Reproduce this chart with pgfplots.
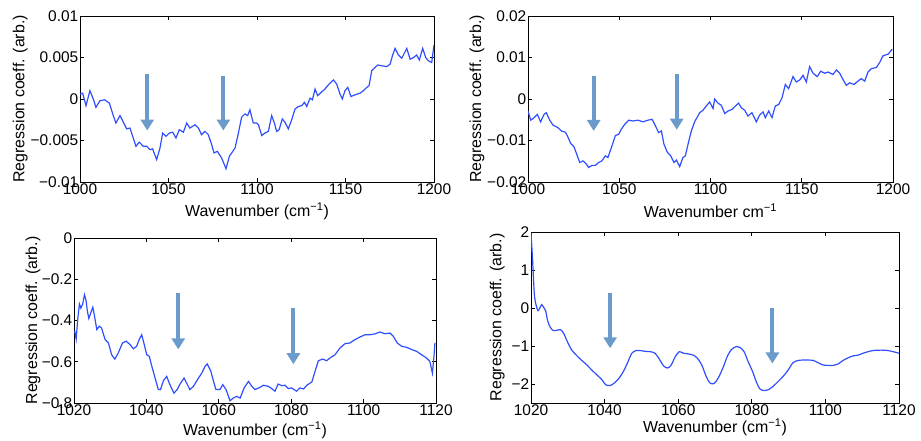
\documentclass[border=0pt]{standalone}
\usepackage{fontspec}
\setmainfont{Liberation Sans}
\usepackage{pgfplots}
\pgfplotsset{compat=1.18}
\usetikzlibrary{arrows.meta}
\definecolor{specblue}{HTML}{2F4FFF}
\definecolor{arrowblue}{HTML}{6A9BCB}

\pgfplotsset{
  matlab/.style={
    scale only axis,
    anchor=south west,
    axis line style={black,line width=0.8bp},
    tick style={black,line width=0.8bp},
    tick align=inside,
    major tick length=4bp,
    scaled ticks=false,
    tick label style={font=\fontsize{15.5}{17}\selectfont},
    ticklabel style={inner sep=1.5bp},
    label style={font=\fontsize{16}{18}\selectfont},
    no markers,
    cycle list={{specblue}},
    every axis plot/.append style={line width=1.2bp},
    clip=true,
  },
}
\tikzset{arr/.style={arrowblue,line width=4bp,-{Triangle[width=13bp,length=11bp]}}}

\begin{document}
\begin{tikzpicture}
\useasboundingbox (0,0) rectangle (921bp,441bp);

% top left
\begin{axis}[matlab,
  at={(80bp,259bp)},width=354bp,height=166bp,
  xmin=1000,xmax=1200,ymin=-0.01,ymax=0.01,
  xtick={1000,1050,1100,1150,1200},
  xticklabels={1000,1050,1100,1150,1200},
  ytick={-0.01,-0.005,0,0.005,0.01},
  yticklabels={−0.01,−0.005,0,0.005,0.01},
  xlabel={Wavenumber (cm\textsuperscript{−1})},
  ylabel={Regression coeff. (arb.)},
  xlabel style={at={(axis description cs:0.5,-0.175)},anchor=center},
  ylabel style={at={(axis description cs:-0.169,0.5)},anchor=center},
]
\addplot coordinates {
(1000,0.0006) (1001.5,0.0007) (1003.4,-0.0008) (1005.6,0.0010) (1007.5,0.0000)
(1009,-0.0010) (1011.3,-0.0002) (1014,-0.0001) (1016.6,-0.0005) (1018.8,-0.0020)
(1020.3,-0.0029) (1022.6,-0.0020) (1024.5,-0.0028) (1026.4,-0.0036) (1028.2,-0.0035)
(1030.1,-0.0047) (1031.6,-0.0057) (1033.5,-0.0052) (1035.8,-0.0057) (1037.7,-0.0057)
(1039.5,-0.0061) (1041,-0.0060) (1043.3,-0.0073) (1045.2,-0.0059) (1046.7,-0.0041)
(1048.6,-0.0045) (1050.5,-0.0041) (1052.4,-0.0040) (1054.2,-0.0047) (1056.1,-0.0037)
(1058.4,-0.0040) (1060.3,-0.0029) (1062.1,-0.0035) (1065,-0.0031) (1066.9,-0.0035)
(1068.7,-0.0043) (1070.6,-0.0039) (1072.5,-0.0043) (1074.4,-0.0055) (1075.7,-0.0065)
(1077.6,-0.0063) (1080,-0.0071) (1082.5,-0.0084) (1084.4,-0.0069) (1085.7,-0.0065)
(1087.6,-0.0059) (1089.5,-0.0041) (1091.3,-0.0022) (1093.2,-0.0018) (1094.7,-0.0020)
(1096,-0.0013) (1097.9,-0.0029) (1099.8,-0.0029) (1100.8,-0.0031) (1102.7,-0.0044)
(1104.5,-0.0041) (1106.4,-0.0039) (1108.3,-0.0020) (1109.8,-0.0029) (1111.1,-0.0039)
(1112.5,-0.0037) (1114.3,-0.0024) (1115.8,-0.0028) (1117.7,-0.0036) (1119.6,-0.0025)
(1121.5,-0.0012) (1123.4,-0.0009) (1125.3,-0.0008) (1126.8,-0.0004) (1128.1,-0.0009)
(1130,0.0001) (1131.3,-0.0001) (1132.8,0.0012) (1134.3,0.0004) (1136.2,0.0008)
(1138.4,0.0012) (1140.7,0.0018) (1143.2,0.0023) (1145,0.0018) (1146.9,0.0006)
(1148.2,0.0000) (1149.7,0.0010) (1151.3,0.0014) (1153.1,0.0003) (1155.4,0.0005)
(1158.2,0.0007) (1160.1,0.0010) (1162,0.0014) (1163.3,0.0016) (1164.8,0.0034)
(1166.7,0.0038) (1168.2,0.0041) (1170.5,0.0040) (1173.3,0.0039) (1175.2,0.0042)
(1176.5,0.0052) (1178,0.0061) (1179.9,0.0053) (1181.8,0.0049) (1184.6,0.0061)
(1186.5,0.0048) (1188.4,0.0050) (1190.2,0.0053) (1191.7,0.0047) (1193.6,0.0061)
(1195.3,0.0050) (1196.8,0.0046) (1198.7,0.0044) (1200,0.0065)
};
\draw[arr] (axis cs:1038,0.0030) -- (axis cs:1038,-0.0038);
\draw[arr] (axis cs:1081,0.0028) -- (axis cs:1081,-0.0038);
\end{axis}

% top right
\begin{axis}[matlab,
  at={(528bp,259bp)},width=365bp,height=166bp,
  xmin=1000,xmax=1200,ymin=-0.02,ymax=0.02,
  xtick={1000,1050,1100,1150,1200},
  xticklabels={1000,1050,1100,1150,1200},
  ytick={-0.02,-0.01,0,0.01,0.02},
  yticklabels={−0.02,−0.01,0,0.01,0.02},
  xlabel={Wavenumber cm\textsuperscript{−1}},
  ylabel={Regression coeff. (arb.)},
  xlabel style={at={(axis description cs:0.5,-0.175)},anchor=center},
  ylabel style={at={(axis description cs:-0.14,0.5)},anchor=center},
]
\addplot coordinates {
(1000,-0.0029) (1001.5,-0.0051) (1003.3,-0.0045) (1005.1,-0.0037) (1006.9,-0.0055)
(1008.8,-0.0037) (1010,-0.0033) (1011.9,-0.0051) (1013.7,-0.0063) (1016.4,-0.0069)
(1018.3,-0.0077) (1020.5,-0.0080) (1021.6,-0.0089) (1023.4,-0.0107) (1025.2,-0.0115)
(1027,-0.0137) (1028.3,-0.0153) (1030.1,-0.0149) (1032,-0.0157) (1033.2,-0.0165)
(1035.1,-0.0160) (1036.9,-0.0160) (1038.7,-0.0153) (1040.5,-0.0149) (1042.4,-0.0137)
(1043.8,-0.0141) (1045.7,-0.0117) (1047.9,-0.0088) (1049.7,-0.0085) (1051.1,-0.0073)
(1053,-0.0061) (1055.2,-0.0051) (1057.5,-0.0053) (1060.3,-0.0051) (1063,-0.0055)
(1065.8,-0.0051) (1068,-0.0049) (1069.4,-0.0061) (1071.6,-0.0081) (1073.1,-0.0077)
(1074.5,-0.0109) (1076.3,-0.0128) (1078.2,-0.0137) (1080,-0.0153) (1081.3,-0.0147)
(1083.1,-0.0163) (1084.9,-0.0141) (1086.2,-0.0137) (1087.7,-0.0109) (1089.5,-0.0077)
(1091.3,-0.0055) (1094.1,-0.0033) (1095.9,-0.0027) (1097.7,-0.0017) (1099.5,-0.0007)
(1101.4,-0.0023) (1102.3,0.0000) (1104.1,-0.0010) (1105.9,-0.0015) (1107.8,-0.0035)
(1109.6,-0.0029) (1111.8,-0.0025) (1113.6,-0.0017) (1115.4,-0.0010) (1116.9,-0.0021)
(1118.7,-0.0027) (1120.5,-0.0041) (1122.7,-0.0033) (1125.1,-0.0055) (1126.9,-0.0039)
(1128.8,-0.0031) (1130,-0.0045) (1131.9,-0.0029) (1133.7,-0.0045) (1135.5,-0.0017)
(1137.4,-0.0013) (1139.2,0.0003) (1141,0.0035) (1142.8,0.0025) (1145.2,0.0054)
(1147,0.0041) (1148.9,0.0046) (1150.7,0.0057) (1152.5,0.0041) (1154.3,0.0078)
(1156.2,0.0062) (1158.5,0.0054) (1160.4,0.0067) (1162.6,0.0062) (1164.4,0.0065)
(1167.1,0.0059) (1169,0.0070) (1170.8,0.0062) (1172.6,0.0047) (1174.4,0.0033)
(1176.3,0.0039) (1178.6,0.0035) (1180.8,0.0043) (1182.6,0.0049) (1184.5,0.0043)
(1186.3,0.0065) (1188.1,0.0073) (1190.9,0.0076) (1192.7,0.0088) (1194.5,0.0104)
(1197.3,0.0108) (1199.6,0.0120)
};
\draw[arr] (axis cs:1036,0.0055) -- (axis cs:1036,-0.0077);
\draw[arr] (axis cs:1081.5,0.0060) -- (axis cs:1081.5,-0.0074);
\end{axis}

% bottom left
\begin{axis}[matlab,
  at={(74bp,38bp)},width=362bp,height=165bp,
  xmin=1020,xmax=1120,ymin=-0.8,ymax=0,
  xtick={1020,1040,1060,1080,1100,1120},
  xticklabels={1020,1040,1060,1080,1100,1120},
  ytick={-0.8,-0.6,-0.4,-0.2,0},
  yticklabels={−0.8,−0.6,−0.4,−0.2,0},
  xlabel={Wavenumber (cm\textsuperscript{−1})},
  ylabel={Regression coeff. (arb.)},
  xlabel style={at={(axis description cs:0.5,-0.164)},anchor=center},
  ylabel style={at={(axis description cs:-0.113,0.5)},anchor=center},
]
\addplot coordinates {
(1020.2,-0.45) (1020.6,-0.49) (1021.0,-0.40) (1021.5,-0.32) (1021.9,-0.34)
(1022.4,-0.32) (1022.9,-0.275) (1023.3,-0.30) (1023.7,-0.355) (1024.1,-0.39)
(1024.7,-0.36) (1025.2,-0.336) (1025.6,-0.372) (1026.3,-0.444) (1027,-0.428)
(1027.6,-0.436) (1028.6,-0.493) (1029.5,-0.509) (1030.4,-0.566) (1031.3,-0.587)
(1032.2,-0.558) (1033.4,-0.509) (1034.4,-0.50) (1035.5,-0.517) (1036.4,-0.537)
(1037.3,-0.525) (1038,-0.493) (1038.7,-0.469) (1039.3,-0.509) (1040.1,-0.566)
(1040.8,-0.574) (1041.5,-0.622) (1042.4,-0.679) (1043.3,-0.735) (1043.9,-0.735)
(1044.7,-0.692) (1045.6,-0.671) (1046.5,-0.711) (1047.6,-0.752) (1048.5,-0.735)
(1049.3,-0.708) (1050.4,-0.679) (1051.1,-0.703) (1052,-0.735) (1053,-0.719)
(1054.1,-0.687) (1055.3,-0.655) (1056.2,-0.622) (1056.8,-0.611) (1057.8,-0.646)
(1058.5,-0.692) (1059.2,-0.735) (1060.3,-0.735) (1061.1,-0.711) (1062,-0.735)
(1063.1,-0.789) (1064,-0.776) (1064.9,-0.768) (1065.9,-0.776) (1067,-0.727)
(1068.2,-0.695) (1069.1,-0.719) (1070,-0.735) (1071.4,-0.724) (1072.3,-0.714)
(1073.7,-0.719) (1074.6,-0.73) (1075.5,-0.743) (1076.4,-0.708) (1077.4,-0.716)
(1078.3,-0.714) (1079.2,-0.73) (1080.1,-0.727) (1081.5,-0.743) (1082.4,-0.727)
(1083.4,-0.732) (1084.3,-0.714) (1085.7,-0.698) (1086.6,-0.646) (1087.5,-0.595)
(1088.7,-0.587) (1089.8,-0.595) (1090.7,-0.582) (1092.1,-0.566) (1093.5,-0.533)
(1094.9,-0.512) (1096.2,-0.509) (1097.6,-0.493) (1099,-0.48) (1100.4,-0.469)
(1101.8,-0.469) (1103.1,-0.465) (1104.5,-0.456) (1105.9,-0.464) (1107.3,-0.461)
(1108.2,-0.477) (1109.3,-0.509) (1110.5,-0.525) (1111.9,-0.53) (1113.3,-0.541)
(1114.7,-0.55) (1116,-0.566) (1117.4,-0.582) (1118.3,-0.598) (1119,-0.655)
(1119.4,-0.582) (1119.7,-0.509)
};
\draw[arr] (axis cs:1048.8,-0.268) -- (axis cs:1048.8,-0.540);
\draw[arr] (axis cs:1080.6,-0.341) -- (axis cs:1080.6,-0.612);
\end{axis}

% bottom right
\begin{axis}[matlab,
  at={(531bp,38bp)},width=368bp,height=171bp,
  xmin=1020,xmax=1120,ymin=-2.5,ymax=2,
  xtick={1020,1040,1060,1080,1100,1120},
  xticklabels={1020,1040,1060,1080,1100,1120},
  ytick={-2,-1,0,1,2},
  yticklabels={−2,−1,0,1,2},
  xlabel={Wavenumber (cm\textsuperscript{−1})},
  ylabel={Regression coeff. (arb.)},
  xlabel style={at={(axis description cs:0.5,-0.14)},anchor=center},
  ylabel style={at={(axis description cs:-0.092,0.5)},anchor=center},
]
\addplot+[smooth] coordinates {
(1020,1.97) (1020.4,1.32) (1020.9,0.37) (1021.4,0.07) (1021.9,-0.07)
(1022.4,0.0) (1022.9,0.09) (1023.4,0.02) (1024,-0.08) (1024.5,-0.33)
(1025.2,-0.5) (1026,-0.59) (1027,-0.59) (1028,-0.57) (1028.9,-0.67)
(1029.9,-0.89) (1031.1,-1.11) (1032.5,-1.26) (1033.8,-1.38) (1035.2,-1.5)
(1036.5,-1.63) (1037.9,-1.76) (1039.3,-1.89) (1040.3,-2.02) (1041.5,-2.04)
(1042.7,-1.97) (1044,-1.84) (1045.1,-1.67) (1046.2,-1.45) (1047.4,-1.19)
(1048.6,-1.12) (1049.7,-1.12) (1051,-1.14) (1052.4,-1.15) (1053.7,-1.19)
(1054.9,-1.35) (1056,-1.52) (1057.1,-1.58) (1058.1,-1.5) (1059.2,-1.28)
(1060.3,-1.15) (1061.4,-1.19) (1062.8,-1.21) (1064.1,-1.24) (1065.2,-1.32)
(1066.4,-1.5) (1067.6,-1.8) (1068.6,-1.97) (1069.7,-1.99) (1070.9,-1.84)
(1072.3,-1.54) (1073.4,-1.26) (1074.5,-1.09) (1075.7,-1.02) (1076.8,-1.04)
(1077.9,-1.15) (1079,-1.41) (1080.2,-1.67) (1081.3,-1.96) (1082.2,-2.13)
(1083.3,-2.17) (1084.5,-2.15) (1085.8,-2.06) (1087.2,-1.93) (1088.5,-1.8)
(1089.9,-1.63) (1091.2,-1.44) (1092.6,-1.38) (1094,-1.37) (1095.3,-1.37)
(1096.7,-1.38) (1098,-1.44) (1099.4,-1.5) (1100.7,-1.51) (1102.1,-1.51)
(1103.5,-1.47) (1104.8,-1.38) (1106.2,-1.31) (1107.5,-1.26) (1108.9,-1.24)
(1110.2,-1.19) (1111.6,-1.15) (1112.9,-1.12) (1114.3,-1.11) (1115.7,-1.11)
(1117,-1.12) (1118.4,-1.15) (1120,-1.19)
};
\draw[arr] (axis cs:1041.5,0.40) -- (axis cs:1041.5,-1.06);
\draw[arr] (axis cs:1085.6,0.0) -- (axis cs:1085.6,-1.46);
\end{axis}
\end{tikzpicture}
\end{document}
